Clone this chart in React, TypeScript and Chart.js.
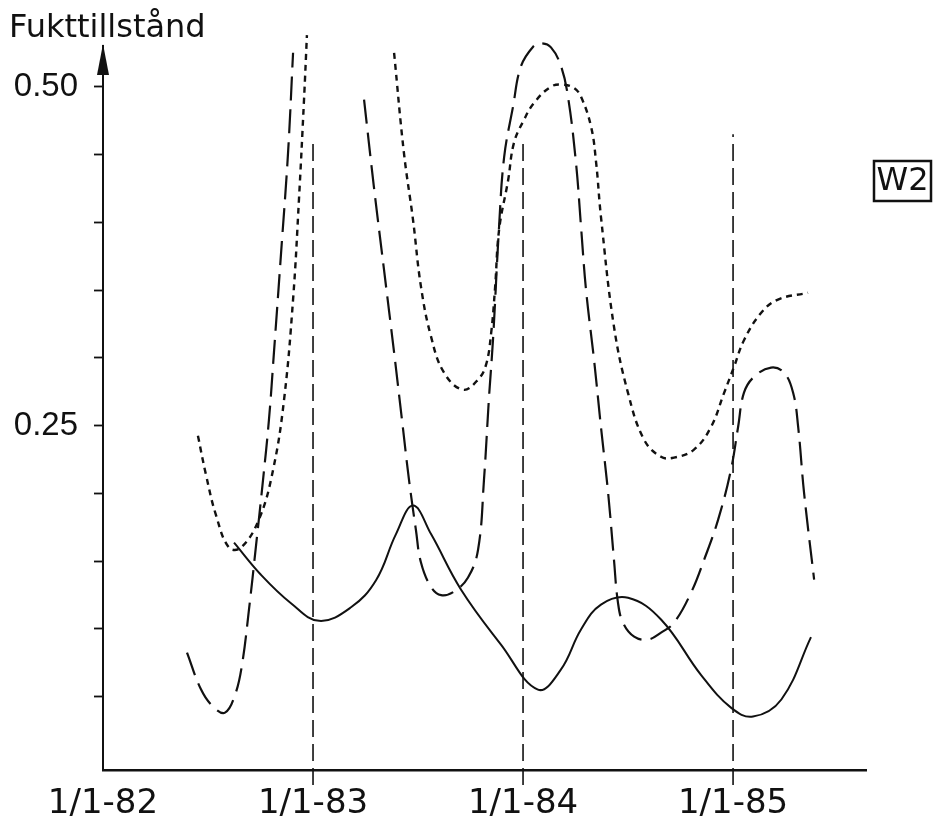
import React, { useEffect, useRef } from "react";
import { Chart, registerables } from "chart.js";

Chart.register(...registerables);

// ---- data ----
const yearTicks = [1982, 1983, 1984, 1985];
const yearLabels = ["1/1-82", "1/1-83", "1/1-84", "1/1-85"];
const yTickValues = [0.05, 0.1, 0.15, 0.2, 0.25, 0.3, 0.35, 0.4, 0.45, 0.5];
const yLabelValues = [0.25, 0.5];
const yLabelTexts = ["0.25", "0.50"];

const yAxisTitle = "Fukttillstånd";
const panelLabel = "W2";

// solid curve
const solidX = [1982.624, 1982.752, 1982.895, 1983.029, 1983.181, 1983.3, 1983.395, 1983.476, 1983.562, 1983.705, 1983.895, 1984.071, 1984.18, 1984.276, 1984.371, 1984.5, 1984.657, 1984.848, 1984.99, 1985.095, 1985.23, 1985.371];
const solidY = [0.1637, 0.14, 0.119, 0.106, 0.116, 0.136, 0.17, 0.191, 0.17, 0.129, 0.0885, 0.0553, 0.07, 0.0996, 0.118, 0.123, 0.107, 0.066, 0.042, 0.0354, 0.048, 0.094];

// short-dash (dotted) curve, first part
const dotAX = [1982.452, 1982.49, 1982.538, 1982.6, 1982.657, 1982.743, 1982.81, 1982.862, 1982.905, 1982.933, 1982.957, 1982.971];
const dotAY = [0.2426, 0.214, 0.184, 0.16, 0.16, 0.181, 0.2175, 0.269, 0.343, 0.4167, 0.49, 0.538];
// short-dash curve, second part
const dotBX = [1983.386, 1983.433, 1983.476, 1983.514, 1983.562, 1983.624, 1983.714, 1983.786, 1983.824, 1983.848, 1983.867, 1983.886, 1983.929, 1983.957, 1984.005, 1984.052, 1984.133, 1984.19, 1984.243, 1984.276, 1984.324, 1984.348, 1984.371, 1984.433, 1984.5, 1984.576, 1984.657, 1984.719, 1984.814, 1984.895, 1984.957, 1985.005, 1985.052, 1985.133, 1985.214, 1985.357];
const dotBY = [0.525, 0.451, 0.402, 0.3525, 0.3156, 0.289, 0.2765, 0.284, 0.295, 0.318, 0.352, 0.3945, 0.431, 0.4587, 0.4757, 0.488, 0.5, 0.5015, 0.499, 0.4926, 0.4705, 0.444, 0.404, 0.323, 0.274, 0.2397, 0.227, 0.2264, 0.2323, 0.249, 0.274, 0.2935, 0.313, 0.333, 0.343, 0.348];

// long-dash curve, first part
const dashAX = [1982.4, 1982.467, 1982.524, 1982.581, 1982.629, 1982.662, 1982.695, 1982.729, 1982.762, 1982.79, 1982.814, 1982.848, 1982.881, 1982.905];
const dashAY = [0.0826, 0.0553, 0.0428, 0.0383, 0.0516, 0.0737, 0.1143, 0.162, 0.21, 0.254, 0.304, 0.3776, 0.451, 0.525];
// long-dash curve, second part
const dashBX = [1983.243, 1983.29, 1983.338, 1983.386, 1983.429, 1983.457, 1983.49, 1983.514, 1983.562, 1983.61, 1983.671, 1983.738, 1983.786, 1983.814, 1983.838, 1983.857, 1983.886, 1983.91, 1983.952, 1983.99, 1984.048, 1984.086, 1984.133, 1984.181, 1984.214, 1984.252, 1984.276, 1984.3, 1984.338, 1984.371, 1984.405, 1984.433, 1984.452, 1984.476, 1984.529, 1984.595, 1984.657, 1984.719, 1984.8, 1984.862, 1984.929, 1984.99, 1985.024, 1985.052, 1985.1, 1985.181, 1985.243, 1985.286, 1985.31, 1985.338, 1985.386];
const dashBY = [0.4904, 0.426, 0.365, 0.304, 0.247, 0.21, 0.173, 0.149, 0.131, 0.125, 0.1276, 0.138, 0.1586, 0.21, 0.271, 0.3134, 0.397, 0.448, 0.485, 0.515, 0.5295, 0.532, 0.529, 0.515, 0.4926, 0.444, 0.397, 0.35, 0.2987, 0.249, 0.2006, 0.151, 0.1195, 0.1047, 0.0944, 0.0922, 0.0973, 0.1047, 0.1268, 0.151, 0.1807, 0.2175, 0.249, 0.2743, 0.286, 0.2928, 0.289, 0.2743, 0.249, 0.2006, 0.1364];

// vertical year marker lines
const markerYears = [1983, 1984, 1985];
const markerBottom = [-0.015, -0.015, -0.015];
const markerTop = [0.462, 0.462, 0.465];

const toPts = (xs: number[], ys: number[]) => xs.map((x, i) => ({ x, y: ys[i] }));

const INK = "#111";

const decorPlugin = {
  id: "decor",
  afterDraw(chart: any) {
    const ctx = chart.ctx;
    const area = chart.chartArea;
    const ax = area.left;
    ctx.save();
    ctx.fillStyle = INK;
    // arrow head on y axis
    ctx.beginPath();
    ctx.moveTo(ax, area.top - 2);
    ctx.lineTo(ax - 6, area.top + 29);
    ctx.lineTo(ax + 6, area.top + 29);
    ctx.closePath();
    ctx.fill();
    // y axis title
    ctx.font = "32px 'DejaVu Sans'";
    ctx.textAlign = "left";
    ctx.textBaseline = "alphabetic";
    ctx.fillText(yAxisTitle, 9, 37);
    // panel label box
    ctx.lineWidth = 2.5;
    ctx.strokeStyle = INK;
    ctx.strokeRect(874, 161, 57, 40);
    ctx.font = "32px 'DejaVu Sans'";
    ctx.textAlign = "center";
    ctx.textBaseline = "middle";
    ctx.fillText(panelLabel, 902.5, 182);
    ctx.restore();
  },
};

export default function App() {
  const ref = useRef<HTMLCanvasElement | null>(null);

  useEffect(() => {
    if (!ref.current) return;
    const lineBase = {
      pointRadius: 0,
      borderColor: INK,
      fill: false,
      clip: false as any,
      tension: 0.4,
    };
    const datasets: any[] = [
      { ...lineBase, data: toPts(solidX, solidY), borderWidth: 2 },
      { ...lineBase, data: toPts(dotAX, dotAY), borderWidth: 2.4, borderDash: [6, 5] },
      { ...lineBase, data: toPts(dotBX, dotBY), borderWidth: 2.4, borderDash: [6, 5] },
      { ...lineBase, data: toPts(dashAX, dashAY), borderWidth: 2.2, borderDash: [24, 9] },
      { ...lineBase, data: toPts(dashBX, dashBY), borderWidth: 2.2, borderDash: [24, 9] },
      ...markerYears.map((yr, i) => ({
        ...lineBase,
        tension: 0,
        data: [
          { x: yr, y: markerBottom[i] },
          { x: yr, y: markerTop[i] },
        ],
        borderWidth: 1.6,
        borderDash: [17, 7],
      })),
    ];

    const chart = new Chart(ref.current, {
      type: "line",
      data: { datasets },
      plugins: [decorPlugin],
      options: {
        animation: false,
        responsive: false,
        maintainAspectRatio: false,
        layout: { padding: { left: 0, top: 46, right: 68, bottom: 0 } },
        plugins: { legend: { display: false }, tooltip: { enabled: false }, title: { display: false } },
        scales: {
          x: {
            type: "linear",
            min: 1982,
            max: 1985.633,
            afterBuildTicks: (s: any) => {
              s.ticks = yearTicks.map((v) => ({ value: v }));
            },
            afterFit: (s: any) => {
              s.height = 61;
            },
            border: { display: true, color: INK, width: 2.6 },
            grid: {
              drawOnChartArea: false,
              drawTicks: false,
            },
            ticks: {
              color: INK,
              font: { family: "'DejaVu Sans'", size: 34 },
              padding: 14,
              maxRotation: 0,
              autoSkip: false,
              callback: (v: any) => {
                const i = yearTicks.indexOf(Number(v));
                return i >= 0 ? yearLabels[i] : "";
              },
            },
          },
          y: {
            type: "linear",
            min: -0.004,
            max: 0.53,
            afterBuildTicks: (s: any) => {
              s.ticks = yTickValues.map((v) => ({ value: v }));
            },
            afterFit: (s: any) => {
              s.width = 103;
            },
            border: { display: true, color: INK, width: 2 },
            grid: {
              drawOnChartArea: false,
              drawTicks: true,
              tickLength: 9,
              tickWidth: 1.8,
              tickColor: INK,
            },
            ticks: {
              color: INK,
              font: { family: "'Liberation Sans'", size: 33 },
              padding: 16,
              autoSkip: false,
              callback: (v: any) => {
                const i = yLabelValues.findIndex((t) => Math.abs(t - Number(v)) < 1e-6);
                return i >= 0 ? yLabelTexts[i] : "";
              },
            },
          },
        },
      },
    });
    return () => chart.destroy();
  }, []);

  return (
    <div style={{ position: "absolute", left: 0, top: 0, width: 934, height: 831, background: "#fff" }}>
      <canvas ref={ref} width={934} height={831} style={{ display: "block", width: 934, height: 831 }} />
    </div>
  );
}
